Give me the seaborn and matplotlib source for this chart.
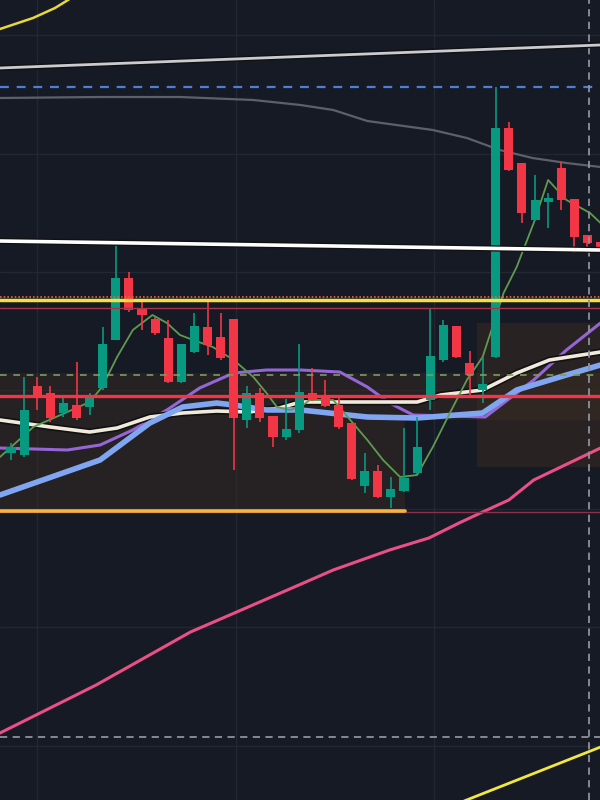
import matplotlib
matplotlib.use("Agg")
import matplotlib.pyplot as plt
import seaborn as sns
import numpy as np

# candles (price units), one per bar
opens = [347, 345, 414, 407, 387, 395, 393, 412, 460, 522, 492, 481, 462, 418, 448, 473,
         463, 481, 380, 407, 384, 363, 370, 407, 403, 395, 377, 314, 329, 303, 309, 327,
         400, 440, 474, 437, 410, 443, 672, 637, 580, 598, 632, 601, 565, 558]
highs = [357, 423, 423, 414, 402, 438, 407, 473, 560, 528, 498, 483, 480, 456, 487, 498,
         487, 481, 414, 412, 384, 401, 456, 432, 420, 403, 377, 347, 335, 323, 372, 383,
         492, 480, 474, 449, 443, 713, 678, 637, 625, 607, 638, 601, 565, 560]
lows = [340, 343, 390, 378, 383, 380, 385, 410, 460, 488, 470, 465, 417, 417, 447, 445,
        440, 330, 372, 378, 353, 360, 367, 399, 393, 371, 320, 307, 302, 292, 308, 326,
        390, 438, 442, 405, 397, 442, 629, 577, 579, 572, 590, 547, 547, 545]
closes = [353, 390, 402, 382, 397, 382, 402, 456, 522, 490, 485, 467, 418, 456, 474, 455,
          442, 382, 407, 382, 363, 371, 408, 400, 394, 373, 321, 329, 303, 311, 322, 353,
          444, 475, 443, 425, 416, 672, 630, 587, 600, 602, 600, 563, 557, 547]

# moving averages: (bar position, value)
ma_green_x = [-0.84, 1.7, 4.3, 6.0, 6.95, 8.1, 9.3, 10.8, 11.9, 12.9, 13.9, 15.4, 17.0, 18.5,
              19.5, 20.3, 21.3, 22.1, 22.8, 24.6, 25.9, 27.2, 28.4, 29.7, 31.0, 32.2, 33.5,
              34.8, 36.0, 36.8, 37.6, 38.6, 39.9, 41.0, 42.4, 44.2, 45.0]
ma_green_y = [343, 373, 388, 398, 413, 443, 470, 485, 477, 465, 460, 453, 440, 423,
              407, 393, 390, 393, 400, 400, 380, 360, 340, 323, 325, 353, 387,
              420, 443, 475, 507, 533, 577, 620, 600, 587, 577]
ma_purple_x = [-0.84, 4.3, 6.8, 9.3, 11.9, 14.4, 17.0, 19.5, 22.1, 25.1, 27.2, 28.9, 30.7,
               36.2, 39.9, 42.4, 45.0]
ma_purple_y = [352, 350, 355, 370, 390, 412, 427, 430, 430, 428, 413, 397, 385,
               383, 420, 450, 477]
ma_blue_x = [-0.84, 6.8, 10.6, 13.1, 15.7, 17.0, 19.5, 22.1, 27.2, 31.0, 36.0, 38.6, 42.4, 45.0]
ma_blue_y = [305, 340, 377, 393, 397, 395, 390, 390, 383, 382, 387, 410, 425, 435]
ma_cream_x = [-0.84, 3.0, 6.0, 8.1, 10.6, 13.1, 15.7, 18.2, 20.5, 22.1, 27.2, 31.0, 32.8,
              36.0, 38.6, 41.1, 45.0]
ma_cream_y = [380, 373, 368, 372, 383, 387, 389, 388, 392, 398, 398, 398, 405,
              410, 427, 440, 448]
ma_gray_x = [-0.84, 6.8, 12.9, 18.5, 22.1, 24.6, 27.2, 32.2, 34.8, 37.3, 39.8, 42.4, 45.0]
ma_gray_y = [702, 703, 703, 700, 695, 690, 679, 670, 662, 650, 642, 637, 633]
ma_pink_x = [-0.84, 6.5, 13.7, 16.7, 21.1, 24.6, 28.9, 31.9, 34.2, 36.0, 38.0, 39.9, 45.0]
ma_pink_y = [67, 115, 168, 185, 210, 230, 250, 262, 277, 288, 300, 320, 352]

# drawn trend lines
trend_top_x, trend_top_y = [-0.84, 44.96], [732, 755]
trend_mid_x, trend_mid_y = [-0.84, 44.96], [559, 550]
arc_x, arc_y = [-0.84, 1.68, 3.36, 4.35, 5.0], [771, 782, 792, 800, 806]
yel_low_x, yel_low_y = [34.2, 45.2], [-3, 54]

bg = "#161a25"
up_col, down_col = "#089981", "#f23645"

sns.set_theme(style="dark", rc={"axes.facecolor": bg, "figure.facecolor": bg})

fig = plt.figure(figsize=(6, 8), dpi=100)
ax = fig.add_axes([0, 0, 1, 1])
ax.set_facecolor(bg)

# grid
for gx in [1.98, 17.18, 32.29]:
    ax.axvline(gx, color="#232733", lw=1, zorder=0)
for gy in [765, 646, 528, 410, 291, 173, 54]:
    ax.axhline(gy, color="#232733", lw=1, zorder=0)

# zones
ax.fill_between([-0.84, 30.1], 289, 427, color="#3a2b22", alpha=0.45, lw=0, zorder=0.5)
ax.fill_between([30.1, 45], 380, 427, color="#3a2b22", alpha=0.45, lw=0, zorder=0.5)
ax.fill_between([35.6, 45], 333, 477, color="#3a2b22", alpha=0.5, lw=0, zorder=0.5)

# moving averages
sns.lineplot(x=ma_gray_x, y=ma_gray_y, ax=ax, color="#5d606b", lw=1.6, zorder=1)
sns.lineplot(x=ma_pink_x, y=ma_pink_y, ax=ax, color="#ec4f86", lw=2.2, zorder=1)
sns.lineplot(x=ma_purple_x, y=ma_purple_y, ax=ax, color="#9466d6", lw=2.2, zorder=1.2)
sns.lineplot(x=ma_cream_x, y=ma_cream_y, ax=ax, color="#111111", lw=5, zorder=1.3)
sns.lineplot(x=ma_cream_x, y=ma_cream_y, ax=ax, color="#f1e9dc", lw=2.6, zorder=1.4)
sns.lineplot(x=ma_blue_x, y=ma_blue_y, ax=ax, color="#80a6f2", lw=4, zorder=1.5)
sns.lineplot(x=ma_green_x, y=ma_green_y, ax=ax, color="#5e9b4f", lw=1.3, zorder=2)

# candles
x = np.arange(len(opens))
o, h, l, c = map(np.array, (opens, highs, lows, closes))
cols = np.where(c >= o, up_col, down_col)
ax.vlines(x, l, h, colors=cols, lw=1.2, zorder=3)
bottoms = np.minimum(o, c)
heights = np.maximum(np.abs(c - o), 1.5)
ax.bar(x, heights, bottom=bottoms, width=0.69, color=cols, lw=0, zorder=4)

# horizontal drawings
ax.axhline(713, color="#4d7fd6", lw=1.6, ls=(0, (4, 3.5)), zorder=5)
ax.axhline(503, color="#e8643c", lw=1.2, ls=(0, (1, 1.2)), zorder=5)
ax.axhline(500, color="#f7e03c", lw=2.5, zorder=5)
ax.axhline(492, color="#a83445", lw=1, zorder=5)
ax.axhline(425, color="#7d9c5e", lw=1.2, ls=(0, (4, 4)), zorder=5)
ax.axhline(404, color="#f23645", lw=2.4, zorder=5)
ax.axhline(288, color="#8e2f4c", lw=1, zorder=5)
ax.plot([-0.84, 30.1], [289, 289], color="#f5b53d", lw=2.6, zorder=5)
ax.axhline(63, color="#8f929c", lw=1.3, ls=(0, (4, 3)), zorder=5)
ax.axvline(44.1, color="#8f929c", lw=1.3, ls=(0, (4, 3)), zorder=5)

# trend lines
sns.lineplot(x=trend_top_x, y=trend_top_y, ax=ax, color="#111111", lw=4, zorder=5)
sns.lineplot(x=trend_top_x, y=trend_top_y, ax=ax, color="#c9cbd1", lw=2, zorder=5.1)
sns.lineplot(x=trend_mid_x, y=trend_mid_y, ax=ax, color="#111111", lw=4.5, zorder=5)
sns.lineplot(x=trend_mid_x, y=trend_mid_y, ax=ax, color="#ffffff", lw=2.6, zorder=5.1)
sns.lineplot(x=arc_x, y=arc_y, ax=ax, color="#e6d83a", lw=1.8, zorder=5)
sns.lineplot(x=yel_low_x, y=yel_low_y, ax=ax, color="#f2e640", lw=2, zorder=5)

ax.set_xlim(-0.84, 44.96)
ax.set_ylim(0, 800)
ax.set_xticks([])
ax.set_yticks([])
for s in ax.spines.values():
    s.set_visible(False)
ax.grid(False)

fig.savefig("out.png", dpi=100, facecolor=bg)
